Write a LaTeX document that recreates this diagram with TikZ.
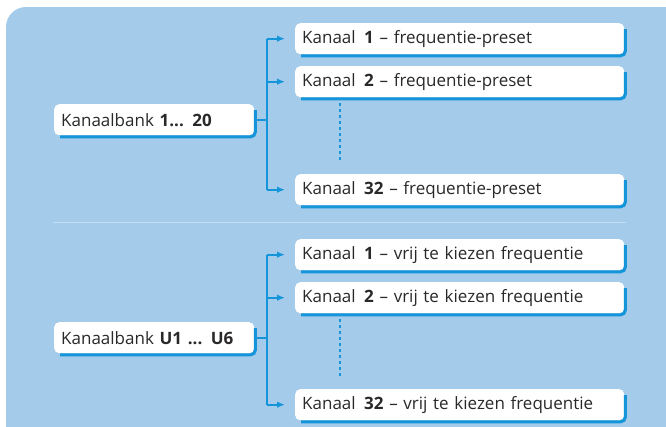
\documentclass[tikz,border=0pt]{standalone}
\usepackage{fontspec}
\setmainfont{Open Sans}
\usetikzlibrary{arrows.meta}
\definecolor{bg}{HTML}{A5CBEB}
\definecolor{acc}{HTML}{1495DA}
\definecolor{sepc}{HTML}{C3DDF2}
\definecolor{txt}{HTML}{2A2828}
\tikzset{
  boxnode/.style={anchor=north west, fill=white, rounded corners=5pt, inner xsep=7pt, inner ysep=0pt,
    minimum height=31pt, text=txt, font=\fontsize{17}{20}\selectfont, align=left},
  banknode/.style={boxnode, text width=186pt},
  chnode/.style={boxnode, text width=315pt},
  shadowline/.style={draw=acc, line width=3pt, rounded corners=5pt},
  conn/.style={draw=acc, line width=2pt},
  arr/.style={conn, -{Latex[length=8pt,width=6.5pt]}, shorten >=10pt},
  dotl/.style={draw=acc, line width=2.6pt, dash pattern=on 2.6pt off 3.4pt},
  sepl/.style={draw=sepc, line width=1pt}
}
\newcommand{\shadowL}[1]{\draw[shadowline] ([shift={(1pt,-6pt)}]#1.north east) -- ([shift={(1pt,-1.5pt)}]#1.south east) -- ([shift={(6pt,-1.5pt)}]#1.south west);}
\begin{document}
\begin{tikzpicture}[x=1pt,y=-1pt]
\useasboundingbox (0,0) rectangle (666,426);
\begin{scope}
\clip (0,0) rectangle (666,426);
\fill[bg, rounded corners=20pt] (6,7) rectangle (690,446);
\end{scope}
% upper group
\node[banknode] (bankA) at (54,104) {Kanaalbank \textbf{1... 20}};
\node[chnode] (a1) at (295,23) {Kanaal \,\textbf{1} -- frequentie-preset};
\node[chnode] (a2) at (295,66) {Kanaal \,\textbf{2} -- frequentie-preset};
\node[chnode] (a32) at (295,174) {Kanaal \,\textbf{32} -- frequentie-preset};
\coordinate (ta) at (267,0);
\coordinate (da) at (340,0);
\draw[conn] (bankA.east) -- (bankA.east -| ta);
\draw[conn] (a1.west -| ta) -- (a32.west -| ta);
\draw[arr] (a1.west -| ta) -- (a1.west);
\draw[arr] (a2.west -| ta) -- (a2.west);
\draw[arr] (a32.west -| ta) -- (a32.west);
\draw[dotl, shorten <=6pt, shorten >=11pt] (a2.south -| da) -- (a32.north -| da);
% separator
\coordinate (s1) at (53,222);
\coordinate (s2) at (626,222);
\draw[sepl] (s1) -- (s2);
% lower group
\node[banknode] (bankB) at (54,322) {Kanaalbank \textbf{U1 ... U6}};
\node[chnode] (b1) at (295,239) {Kanaal \,\textbf{1} -- vrij te kiezen frequentie};
\node[chnode] (b2) at (295,282) {Kanaal \,\textbf{2} -- vrij te kiezen frequentie};
\node[chnode] (b32) at (295,389) {Kanaal \,\textbf{32} -- vrij te kiezen frequentie};
\coordinate (tb) at (267,0);
\coordinate (db) at (340,0);
\draw[conn] (bankB.east) -- (bankB.east -| tb);
\draw[conn] (b1.west -| tb) -- (b32.west -| tb);
\draw[arr] (b1.west -| tb) -- (b1.west);
\draw[arr] (b2.west -| tb) -- (b2.west);
\draw[arr] (b32.west -| tb) -- (b32.west);
\draw[dotl, shorten <=6pt, shorten >=11pt] (b2.south -| db) -- (b32.north -| db);
% shadows
\shadowL{bankA}\shadowL{a1}\shadowL{a2}\shadowL{a32}
\shadowL{bankB}\shadowL{b1}\shadowL{b2}\shadowL{b32}
\end{tikzpicture}
\end{document}
